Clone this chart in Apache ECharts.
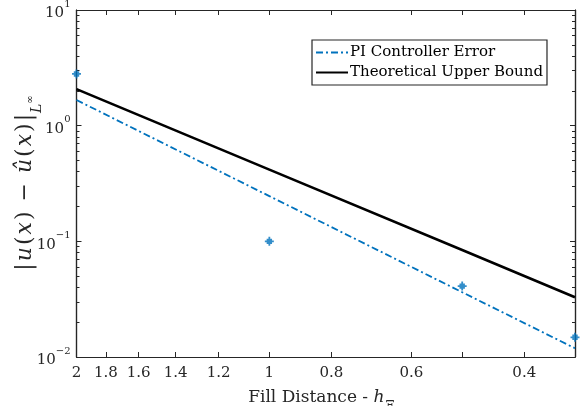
<!DOCTYPE html>
<html><head><meta charset="utf-8">
<script src="https://cdn.jsdelivr.net/npm/echarts@6/dist/echarts.min.js"></script>
<style>html,body{margin:0;padding:0;background:#fff}#c{width:582px;height:406px}</style>
</head><body><div id="c"></div>
<script>
// ---- data ----
const fillDistance = [2, 1, 0.5, 1/3];
const piError = [2.8, 0.1, 0.041, 0.0148];
const piFit = [1.667, 0.246, 0.0363, 0.0119];
const upperBound = [2.07, 0.417, 0.0841, 0.0329];
const xTickLabels = [2, 1.8, 1.6, 1.4, 1.2, 1, 0.8, 0.6, 0.4];
const xTicks = [2, 1.8, 1.6, 1.4, 1.2, 1, 0.8, 0.6, 0.5, 0.4];
const yMajor = [0.01, 0.1, 1, 10];
const yMinor = [0.02,0.03,0.04,0.05,0.06,0.07,0.08,0.09,
                0.2,0.3,0.4,0.5,0.6,0.7,0.8,0.9,
                2,3,4,5,6,7,8,9];
const seriesNames = ['PI Controller Error', 'Theoretical Upper Bound'];

// ---- styling ----
const FONT = "'DejaVu Serif', serif";
const AX = '#262626';
const BLUE = '#0072BD';
const X_MIN = 1/3, X_MAX = 2, Y_MIN = 0.01, Y_MAX = 10;

function pairs(xs, ys){ return xs.map((x,i)=>[x, ys[i]]); }

function yAxisBase(extra){
  return Object.assign({
    type: 'log', logBase: 10, min: Y_MIN, max: Y_MAX,
    axisLine: {show: true, lineStyle: {color: AX, width: 1.2}},
    splitLine: {show: false},
    axisLabel: {show: false},
    axisTick: {show: true, inside: true, length: 5, lineStyle: {color: AX, width: 1}, customValues: yMajor}
  }, extra);
}

const chart = echarts.init(document.getElementById('c'), null, {renderer: 'canvas'});
chart.setOption({
  animation: false,
  backgroundColor: '#fff',
  grid: {left: 76.5, right: 7, top: 10, bottom: 49, outerBoundsMode: 'none', containLabel: false},
  xAxis: [
    {
      type: 'log', logBase: 10, min: X_MIN, max: X_MAX, inverse: true, position: 'bottom',
      axisLine: {show: true, lineStyle: {color: AX, width: 1.2}},
      splitLine: {show: false},
      axisTick: {show: true, inside: true, length: 5, lineStyle: {color: AX, width: 1}, customValues: xTicks},
      axisLabel: {show: true, customValues: xTickLabels, margin: 9, color: AX, fontFamily: FONT, fontSize: 15,
                  formatter: v => String(Math.round(v*10)/10)},
      name: '{n|Fill Distance - }{i|h}{sub|Ξ}{subsub|N}',
      nameLocation: 'middle', nameGap: 30, nameMoveOverlap: false,
      nameTextStyle: {
        rich: {
          n: {fontFamily: FONT, fontSize: 17, color: AX, lineHeight: 22, verticalAlign: 'middle'},
          i: {fontFamily: FONT, fontSize: 17, fontStyle: 'italic', color: AX, lineHeight: 22, verticalAlign: 'middle'},
          sub: {fontFamily: FONT, fontSize: 13, color: AX, lineHeight: 10, verticalAlign: 'bottom', padding: [0,0,-4,1]},
          subsub: {fontFamily: FONT, fontSize: 10, fontStyle: 'italic', color: AX, lineHeight: 8, verticalAlign: 'bottom', padding: [0,0,-7,0]}
        }
      }
    },
    {
      type: 'log', logBase: 10, min: X_MIN, max: X_MAX, inverse: true, position: 'top',
      axisLine: {show: true, lineStyle: {color: AX, width: 1.2}},
      splitLine: {show: false},
      axisTick: {show: true, inside: true, length: 5, lineStyle: {color: AX, width: 1}, customValues: xTicks},
      axisLabel: {show: false}
    }
  ],
  yAxis: [
    yAxisBase({
      position: 'left',
      axisLabel: {
        show: true, customValues: yMajor, margin: 6,
        formatter: v => '{b|10}{s|' + String(Math.round(Math.log10(v))).replace('-', '−') + '}',
        rich: {
          b: {fontFamily: FONT, fontSize: 15, color: AX, lineHeight: 22, verticalAlign: 'bottom'},
          s: {fontFamily: FONT, fontSize: 10, color: AX, lineHeight: 12, verticalAlign: 'top'}
        }
      },
      name: '{n||}{i|u}{n|(}{i|x}{n|)}{op| − }{i|û}{n|(}{i|x}{n|)}{n||}{sub|L}{sup|∞}',
      nameLocation: 'middle', nameGap: 38, nameRotate: 90, nameMoveOverlap: false,
      nameTextStyle: {
        rich: {
          n: {fontFamily: FONT, fontSize: 22, color: AX, lineHeight: 26, verticalAlign: 'middle', padding: [0,1,0,1]},
          i: {fontFamily: FONT, fontSize: 22, fontStyle: 'italic', color: AX, lineHeight: 26, verticalAlign: 'middle', padding: [0,1,0,1]},
          op: {fontFamily: FONT, fontSize: 22, color: AX, lineHeight: 26, verticalAlign: 'middle', padding: [0,2,0,2]},
          sub: {fontFamily: FONT, fontSize: 14, fontStyle: 'italic', color: AX, lineHeight: 10, verticalAlign: 'bottom', padding: [0,0,-6,0]},
          sup: {fontFamily: FONT, fontSize: 10, color: AX, lineHeight: 8, verticalAlign: 'bottom', padding: [0,0,3,0]}
        }
      }
    }),
    yAxisBase({position: 'left', axisTick: {show: true, inside: true, length: 3, lineStyle: {color: AX, width: 1}, customValues: yMinor}}),
    yAxisBase({position: 'right'}),
    yAxisBase({position: 'right', axisTick: {show: true, inside: true, length: 3, lineStyle: {color: AX, width: 1}, customValues: yMinor}})
  ],
  legend: {
    orient: 'vertical', left: 312, top: 40,
    data: seriesNames,
    itemWidth: 32, itemHeight: 10, itemGap: 5,
    itemStyle: {opacity: 0},
    backgroundColor: '#fff', borderColor: AX, borderWidth: 1.2, borderRadius: 0,
    padding: [5, 4, 5, 3],
    textStyle: {fontFamily: FONT, fontSize: 15, color: '#000', padding: [0,0,0,-3]}
  },
  series: [
    {
      name: seriesNames[0], type: 'line', xAxisIndex: 0, yAxisIndex: 0,
      data: pairs(fillDistance, piFit), symbol: 'none', showSymbol: false,
      lineStyle: {color: BLUE, width: 1.8, type: [7, 3, 2, 3]}, itemStyle: {color: BLUE}
    },
    {
      name: seriesNames[1], type: 'line', xAxisIndex: 0, yAxisIndex: 0,
      data: pairs(fillDistance, upperBound), symbol: 'none', showSymbol: false,
      lineStyle: {color: '#000', width: 2.6, type: 'solid'}, itemStyle: {color: '#000'}
    },
    {
      name: 'points', type: 'scatter', xAxisIndex: 0, yAxisIndex: 0, clip: false,
      data: pairs(fillDistance, piError),
      symbol: 'path://M4,0 L6,0 L6,4 L10,4 L10,6 L6,6 L6,10 L4,10 L4,6 L0,6 L0,4 L4,4 Z M2,2 L8,2 L8,8 L2,8 Z',
      symbolSize: 9,
      itemStyle: {color: BLUE}, z: 5
    }
  ]
});
</script></body></html>
